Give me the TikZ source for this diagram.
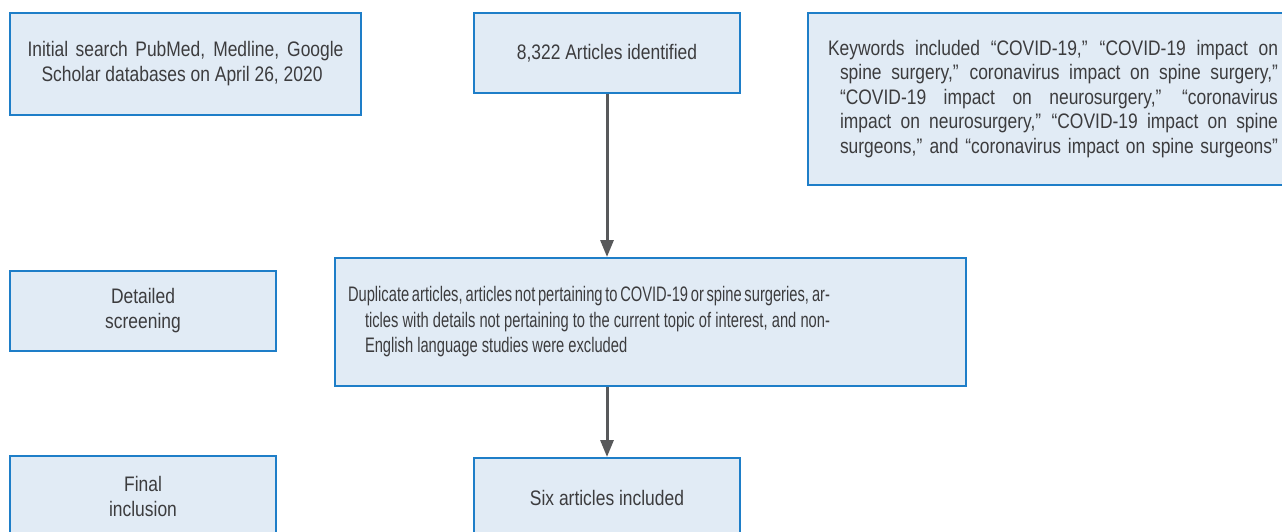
\documentclass[tikz,border=0pt]{standalone}
\usepackage{fontspec}
\setmainfont{Liberation Sans}[FakeStretch=0.83]
\newfontfamily\narrowfont{Liberation Sans}[FakeStretch=0.70]
\usetikzlibrary{arrows.meta}
\definecolor{boxfill}{HTML}{E1EBF5}
\definecolor{boxline}{HTML}{1E7EC8}
\definecolor{txtcol}{HTML}{3C3C3E}
\definecolor{arrcol}{HTML}{58595B}
\newcommand{\jline}[2]{\makebox[#1][s]{#2}}
\tikzset{
  flowbox/.style={draw=boxline, fill=boxfill, line width=2pt, inner sep=0pt,
    text=txtcol, font=\fontsize{21}{25}\selectfont, align=left},
  flowarrow/.style={draw=arrcol, line width=3pt, -{Triangle[length=17pt,width=13pt]}}
}
\begin{document}
\begin{tikzpicture}[x=1pt,y=1pt]
\useasboundingbox (0,0) rectangle (1282,-532);
% left column
\node[flowbox, minimum width=351pt, minimum height=102pt] (search) at (185.5,-64)
  {\jline{316pt}{Initial search PubMed, Medline, Google}\\
   \hspace*{14pt}Scholar databases on April 26, 2020};
\node[flowbox, align=center, minimum width=266pt, minimum height=80pt] (screen) at (143,-311)
  {Detailed\\screening};
\node[flowbox, align=center, minimum width=266pt, minimum height=81pt] (final) at (143,-496.5)
  {Final\\inclusion};
% middle column
\node[flowbox, minimum width=266pt, minimum height=80pt] (ident) at (607,-53)
  {8,322 Articles identified};
\node[flowbox, font=\fontsize{21}{25.5}\narrowfont, minimum width=631pt, minimum height=128pt] (excl) at (650.5,-322)
  {\parbox{605pt}{%
   \jline{482pt}{Duplicate articles, articles not pertaining to COVID-19 or spine surgeries, ar-}\\
   \hspace*{17pt}\jline{465pt}{ticles with details not pertaining to the current topic of interest, and non-}\\
   \hspace*{17pt}English language studies were excluded}};
\node[flowbox, minimum width=266pt, minimum height=80pt] (incl) at (607,-498)
  {Six articles included};
% right column
\node[flowbox, font=\fontsize{21}{24.5}\selectfont, minimum width=490pt, minimum height=172pt] (keys) at (1053,-99)
  {\jline{450pt}{Keywords included “COVID-19,” “COVID-19 impact on}\\
   \hspace*{12pt}\jline{438pt}{spine surgery,” coronavirus impact on spine surgery,”}\\
   \hspace*{12pt}\jline{438pt}{“COVID-19 impact on neurosurgery,” “coronavirus}\\
   \hspace*{12pt}\jline{438pt}{impact on neurosurgery,” “COVID-19 impact on spine}\\
   \hspace*{12pt}\jline{438pt}{surgeons,” and “coronavirus impact on spine surgeons”}};
% connectors
\draw[flowarrow] (ident.south) -- (ident.south |- excl.north);
\draw[flowarrow] (ident.south |- excl.south) -- (incl.north);
\end{tikzpicture}
\end{document}
